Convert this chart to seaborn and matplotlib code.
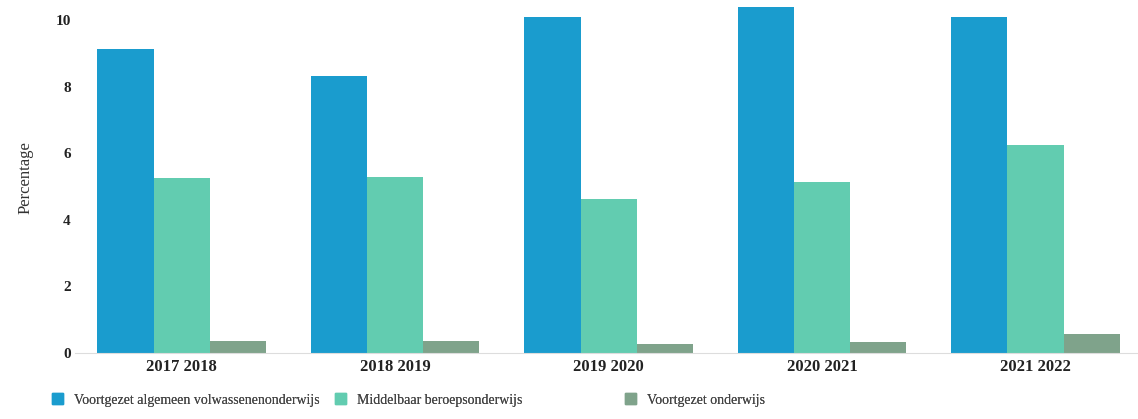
import pandas as pd
import seaborn as sns
import matplotlib.pyplot as plt

# data
years = ["2017 2018", "2018 2019", "2019 2020", "2020 2021", "2021 2022"]
vavo = [9.13, 8.32, 10.09, 10.39, 10.09]
mbo = [5.26, 5.30, 4.62, 5.14, 6.25]
vo = [0.37, 0.36, 0.27, 0.33, 0.57]
series = ["Voortgezet algemeen volwassenenonderwijs",
          "Middelbaar beroepsonderwijs",
          "Voortgezet onderwijs"]

df = pd.DataFrame({"jaar": years, series[0]: vavo, series[1]: mbo, series[2]: vo})
mdf = pd.melt(df, id_vars=["jaar"], var_name="soort", value_name="pct")

sns.set_style("white")
plt.rcParams["font.family"] = ["Liberation Serif", "DejaVu Serif"]

fig = plt.figure(figsize=(11.38, 4.19), dpi=100)
ax = fig.add_axes([75 / 1138, 1 - 353 / 419, 1063 / 1138, 351 / 419])
my_pal = {series[0]: "#1a9cce", series[1]: "#62ccb0", series[2]: "#7fa38b"}
sns.barplot(x="jaar", y="pct", hue="soort", data=mdf, palette=my_pal,
            width=0.79, saturation=1, linewidth=0, ax=ax, legend=False)

ax.set_xlim(-0.5, 4.48)
ax.set_ylim(0, 10.55)
ax.set_yticks([0, 2, 4, 6, 8, 10])
ax.set_xlabel("")
ax.set_ylabel("Percentage", fontsize=12, color="#333333", labelpad=16)
ax.tick_params(axis="y", labelsize=11, pad=3, length=0)
ax.tick_params(axis="x", labelsize=12, pad=4, length=0)
for lab in ax.get_yticklabels() + ax.get_xticklabels():
    lab.set_fontweight("bold")
    lab.set_color("#222222")
for s in ["top", "right", "left"]:
    ax.spines[s].set_visible(False)
ax.spines["bottom"].set_color("#dddddd")
ax.spines["bottom"].set_linewidth(0.8)

# legend below the chart, one entry per position
legend_x = [39, 322, 612]
for s, lx in zip(series, legend_x):
    h = plt.Rectangle((0, 0), 1, 1, color=my_pal[s])
    leg = fig.legend([h], [s], loc="lower left", bbox_to_anchor=(lx / 1138, 0.0),
                     frameon=False, fontsize=10, handlelength=0.8,
                     handleheight=0.8, handletextpad=0.8, labelcolor="#444444")
    fig.add_artist(leg)

fig.savefig("out.png", dpi=100)
